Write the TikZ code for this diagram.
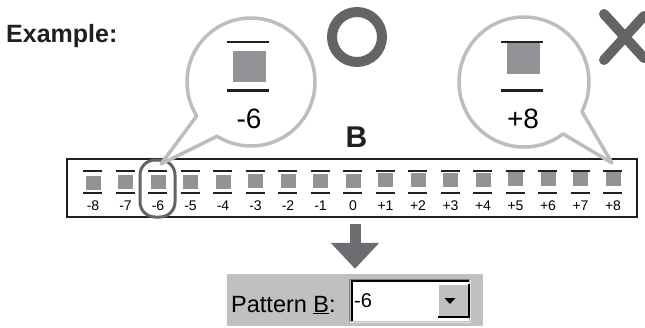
\documentclass[tikz,border=0pt]{standalone}
\usepackage{fontspec}
\setmainfont{Liberation Sans}
\usetikzlibrary{arrows.meta,calc,positioning}

\definecolor{bubblegray}{RGB}{188,189,191}
\definecolor{markgray}{RGB}{99,100,102}
\definecolor{squaregray}{RGB}{146,147,150}
\definecolor{wingray}{RGB}{192,192,192}
\definecolor{arrowgray}{RGB}{108,109,112}
\definecolor{textblack}{RGB}{35,31,32}

\tikzset{
  pics/patticon/.style={code={
    \draw[barline] (-9.5,0) -- (9.5,0);
    \fill[squaregray] (-7,{-0.5-(8-(#1))*0.25}) rectangle ++(15,-14);
    \draw[barline] (-9.5,-22) -- (9.5,-22);
  }}
}

\begin{document}
\begin{tikzpicture}[
    x=1pt, y=1pt,
    barline/.style={line width=1.4pt, textblack},
    numlabel/.style={font=\fontsize{14}{14}\selectfont, anchor=base, inner sep=0pt},
    biglabel/.style={font=\fontsize{28}{28}\selectfont, anchor=base, inner sep=0pt},
    stripbox/.style={rectangle, draw=textblack, line width=2.5pt, minimum width=570, minimum height=58},
    ovalmark/.style={rectangle, draw=markgray, line width=3pt, rounded corners=15, minimum width=35, minimum height=57},
    bubble/.style={draw=bubblegray, fill=white, line width=3.5pt, line join=round},
    bigmark/.style={draw=markgray, line width=10pt, line cap=round},
    bigarrow/.style={draw=arrowgray, line width=11pt, -{Triangle[width=47pt, length=26pt]}},
    panelbox/.style={rectangle, fill=wingray, minimum width=256, minimum height=52},
    combofield/.style={rectangle, fill=white, minimum width=118, minimum height=40}
  ]
  \useasboundingbox (0,0) rectangle (645,-327);

  % Pattern strip
  \node[stripbox] (strip) at (352,-188) {};
  \foreach \v in {-8,...,8}{
    \pic (icon\v) at ({92.5+32.5*(\v+8)},-171) {patticon=\v};
    \node[numlabel] (lab\v) at ({93+32.5*(\v+8)},-210) {\ifnum\v>0 +\fi\v};
  }
  \node[ovalmark] (sel) at (157.5,-188.5) {};

  % Bubbles
  \coordinate (bubL) at (251,-82);
  \coordinate (tipL) at (161,-164);
  \draw[bubble] (tipL) -- ($(bubL)+(212:64)$) arc[start angle=212, end angle=-122, radius=64] -- cycle;
  \pic[scale=2.2, barline/.append style={line width=2.2pt}] (bigiconL) at (248,-42) {patticon=-6};
  \node[biglabel] (bigL) at (249,-128) {-6};

  \coordinate (bubR) at (524,-82);
  \coordinate (tipR) at (612,-163);
  \draw[bubble] (tipR) -- ($(bubR)+(-53:65)$) arc[start angle=-53, end angle=-387, radius=65] -- cycle;
  \pic[scale=2.2, barline/.append style={line width=2.2pt}] (bigiconR) at (522,-42) {patticon=8};
  \node[biglabel] (bigR) at (523,-128) {+8};

  % Marks and titles
  \draw[bigmark] (357,-37) circle[radius=25];
  \draw[bigmark] (604,-14) -- (644,-58);
  \draw[bigmark] (604,-60) -- (644,-16);
  \node[anchor=base west, inner sep=0pt, text=textblack, font=\fontsize{25}{25}\selectfont\bfseries] (title) at (6,-42) {Example:};
  \node[anchor=base, inner sep=0pt, text=textblack, font=\fontsize{30}{30}\selectfont\bfseries] (pname) at (356.5,-147) {B};

  % Dialog field
  \node[panelbox] (panel) at (355,-300) {};
  \draw[bigarrow, shorten <=6pt, shorten >=5pt] (strip.south -| panel.north) -- (panel.north);
  \node[anchor=base west, inner sep=0pt, font=\fontsize{23.5}{24}\selectfont] (patlbl) at (231,-312) {Pattern \underline{B}:};
  \node[combofield] (combo) at (410,-301) {};
  \draw[gray, line width=1.5pt] (combo.south west) ++(-1.5,-1) |- ([xshift=1pt, yshift=1.5pt]combo.north east);
  \draw[black, line width=2pt] ([xshift=1pt]combo.south west) |- ([yshift=-0.5pt]combo.north east);
  \draw[white!88!black, line width=1.5pt] ([xshift=-1.5pt, yshift=-1.5pt]combo.south west) -| ([xshift=1.5pt, yshift=1.5pt]combo.north east);
  \node[rectangle, fill=wingray, minimum width=31, minimum height=33, inner sep=0pt, anchor=north east] (dropbtn) at ([yshift=-3pt]combo.north east) {};
  \draw[white, line width=1.5pt] (dropbtn.south west) |- (dropbtn.north east);
  \draw[black, line width=2pt] (dropbtn.south west) -| (dropbtn.north east);
  \fill[black] ([xshift=-9pt, yshift=2.5pt]dropbtn.center) -- ++(11,0) -- ++(-5.5,-6) -- cycle;
  \node[anchor=base west, inner sep=0pt, font=\fontsize{20}{20}\selectfont] (comboval) at (354,-307) {-6};
\end{tikzpicture}
\end{document}
